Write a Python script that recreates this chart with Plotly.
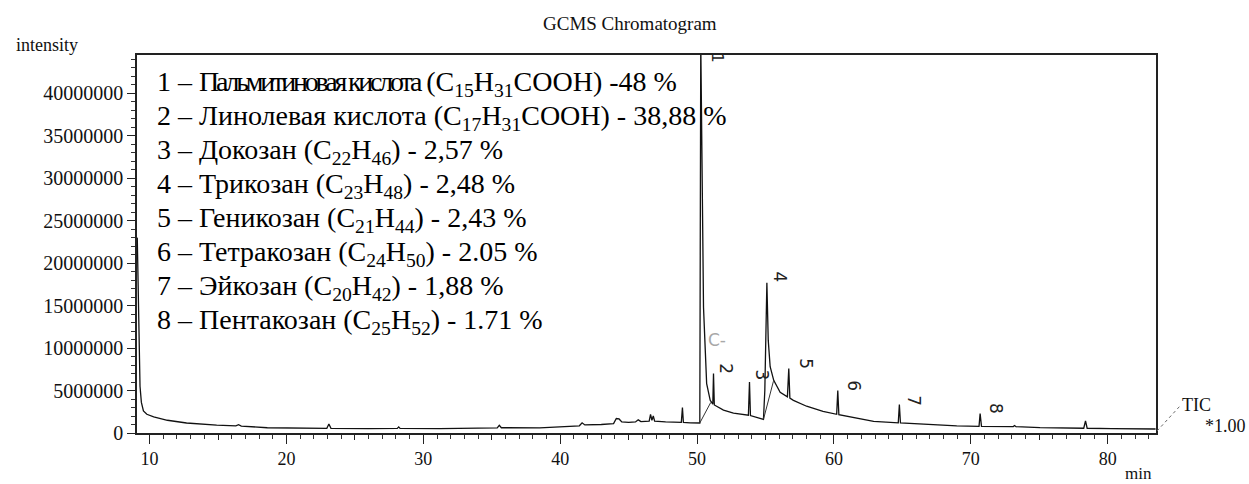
import plotly.graph_objects as go

# ---------------- data ----------------
rt_min = [9.10, 9.20, 9.30, 9.40, 9.55, 9.80, 10.3, 11.3, 12.7, 14.9, 16.3, 16.5, 16.7, 18.6, 21.0,
          22.95, 23.1, 23.25, 26.0, 28.1, 28.2, 28.3, 31.2, 35.4, 35.55, 35.7, 38.5, 40.0, 41.4, 41.6,
          41.8, 43.0, 43.9, 44.1, 44.3, 44.5, 45.0, 45.5, 45.7, 45.9, 46.5, 46.6, 46.7, 46.8, 46.9,
          47.7, 48.85, 48.93, 49.0, 49.5, 50.2, 50.27, 50.40, 50.47, 50.6, 50.7, 50.96, 51.15, 51.2,
          51.26, 51.93, 52.66, 53.75, 53.83, 53.9, 54.6, 54.85, 54.95, 55.05, 55.1, 55.2, 55.34, 55.6,
          56.07, 56.6, 56.7, 56.78, 57.04, 58.0, 59.2, 60.2, 60.28, 60.36, 61.7, 62.9, 64.7, 64.78,
          64.86, 66.5, 68.97, 70.6, 70.68, 70.78, 73.1, 73.2, 73.3, 75.06, 78.25, 78.38, 78.5, 80.3, 83.5]
intensity = [23.0e6, 12.0e6, 5.5e6, 3.6e6, 2.6e6, 2.2e6, 1.9e6, 1.5e6, 1.18e6, 0.92e6, 0.85e6, 0.98e6,
             0.82e6, 0.62e6, 0.58e6, 0.55e6, 1.05e6, 0.55e6, 0.52e6, 0.55e6, 0.72e6, 0.55e6, 0.52e6,
             0.6e6, 0.9e6, 0.62e6, 0.6e6, 0.7e6, 0.85e6, 1.2e6, 0.95e6, 1.0e6, 1.1e6, 1.7e6, 1.65e6,
             1.3e6, 1.25e6, 1.3e6, 1.55e6, 1.35e6, 1.4e6, 2.2e6, 1.5e6, 2.0e6, 1.4e6, 1.3e6, 1.25e6,
             3.0e6, 1.25e6, 1.2e6, 1.18e6, 46.0e6, 20.0e6, 14.8e6, 9.7e6, 5.8e6, 3.85e6, 3.4e6, 7.0e6,
             3.3e6, 2.7e6, 2.35e6, 2.1e6, 6.0e6, 2.05e6, 1.7e6, 1.6e6, 5.0e6, 14.0e6, 17.7e6, 10.9e6,
             7.8e6, 6.2e6, 4.8e6, 4.25e6, 7.6e6, 4.1e6, 3.85e6, 3.15e6, 2.55e6, 2.2e6, 5.0e6, 2.15e6,
             1.7e6, 1.38e6, 1.2e6, 3.35e6, 1.18e6, 1.03e6, 0.83e6, 0.78e6, 2.29e6, 0.78e6, 0.75e6,
             0.88e6, 0.74e6, 0.63e6, 0.56e6, 1.42e6, 0.56e6, 0.52e6, 0.47e6]

# integration baselines drawn by the instrument software
base1_rt = [50.2, 51.0]
base1_int = [1.18e6, 3.6e6]
base2_rt = [54.85, 55.58]
base2_int = [1.6e6, 6.1e6]

# peak labels (handwritten on the chart)
peak_labels = ["1", "2", "3", "4", "5", "6", "7", "8"]
peak_label_rt = [51.5, 52.05, 54.73, 56.07, 57.9, 61.4, 65.86, 71.8]
peak_label_int = [44.2e6, 7.6e6, 6.8e6, 18.4e6, 8.2e6, 5.6e6, 3.85e6, 2.9e6]

legend_lines = [
    '1 – <span style="letter-spacing:-3.2px">Пальмитиновая кислота</span> (C<sub>15</sub>H<sub>31</sub>COOH) -48 %',
    "2 – Линолевая кислота (C<sub>17</sub>H<sub>31</sub>COOH) - 38,88 %",
    "3 – Докозан (C<sub>22</sub>H<sub>46</sub>) - 2,57 %",
    "4 – Трикозан (C<sub>23</sub>H<sub>48</sub>) - 2,48 %",
    "5 – Геникозан (C<sub>21</sub>H<sub>44</sub>) - 2,43 %",
    "6 – Тетракозан (C<sub>24</sub>H<sub>50</sub>) - 2.05 %",
    "7 – Эйкозан (C<sub>20</sub>H<sub>42</sub>) - 1,88 %",
    "8 – Пентакозан (C<sub>25</sub>H<sub>52</sub>) - 1.71 %",
]

x_major = [10, 20, 30, 40, 50, 60, 70, 80]
x_medium = [15, 25, 35, 45, 55, 65, 75]

# ---------------- layout helpers ----------------
W, H = 1249, 484
L, R, T, B = 137, 1156, 55, 433


def px(xp):
    return (xp - L) / (R - L)


def py(yp):
    return (B - yp) / (B - T)


INK = "#111111"
SERIF = "Liberation Serif"

fig = go.Figure()
fig.add_trace(go.Scatter(x=rt_min, y=intensity, mode="lines",
                         line=dict(color=INK, width=1.3), showlegend=False, hoverinfo="skip"))
fig.add_trace(go.Scatter(x=base1_rt, y=base1_int, mode="lines",
                         line=dict(color="#333333", width=1), showlegend=False, hoverinfo="skip"))
fig.add_trace(go.Scatter(x=base2_rt, y=base2_int, mode="lines",
                         line=dict(color="#333333", width=1), showlegend=False, hoverinfo="skip"))

xr = [9.08, 83.53]
fig.update_layout(
    width=W, height=H,
    margin=dict(l=L, r=W - R, t=T, b=H - B, pad=0),
    paper_bgcolor="white", plot_bgcolor="white",
    showlegend=False,
    xaxis=dict(range=xr, tickvals=x_major, ticks="outside", ticklen=9, tickwidth=1.3,
               tickcolor="#222", showline=True, linecolor="#222", linewidth=1.6, mirror=True,
               showgrid=False, zeroline=False,
               tickfont=dict(family=SERIF, size=18, color=INK),
               minor=dict(dtick=1, tick0=0, ticks="outside", ticklen=4, tickwidth=1, tickcolor="#333")),
    xaxis2=dict(range=xr, overlaying="x", anchor="y", tickvals=x_medium, ticks="outside", ticklen=6,
                tickwidth=1.2, tickcolor="#222", showticklabels=False, showline=False,
                showgrid=False, zeroline=False),
    yaxis=dict(range=[0, 44.5e6], dtick=5e6, tick0=0, tickformat="d", ticks="outside", ticklen=8,
               tickwidth=1.3, tickcolor="#222", showline=True, linecolor="#222", linewidth=1.6,
               mirror=True, showgrid=False, zeroline=False,
               tickfont=dict(family=SERIF, size=20, color=INK),
               minor=dict(dtick=1e6, tick0=0, ticks="outside", ticklen=4, tickwidth=1, tickcolor="#333")),
)
# dummy trace so xaxis2 is drawn
fig.add_trace(go.Scatter(x=[xr[0]], y=[None], xaxis="x2", mode="lines", showlegend=False, hoverinfo="skip"))

ann = []
ann.append(dict(text="GCMS Chromatogram", x=px(630), y=py(23), xref="paper", yref="paper",
                xanchor="center", yanchor="middle",
                showarrow=False, font=dict(family=SERIF, size=19, color=INK)))
ann.append(dict(text="intensity", x=px(47), y=py(45), xref="paper", yref="paper",
                xanchor="center", yanchor="middle",
                showarrow=False, font=dict(family=SERIF, size=18, color=INK)))
ann.append(dict(text="min", x=px(1138), y=py(473), xref="paper", yref="paper",
                xanchor="center", yanchor="middle",
                showarrow=False, font=dict(family=SERIF, size=17, color=INK)))
ann.append(dict(text="TIC", x=px(1180), y=py(405), xref="paper", yref="paper", xanchor="left",
                yanchor="middle", showarrow=False, font=dict(family=SERIF, size=18, color=INK)))
ann.append(dict(text="*1.00", x=px(1248), y=py(426), xref="paper", yref="paper", xanchor="right",
                yanchor="middle", showarrow=False, font=dict(family=SERIF, size=18, color=INK)))

line_y = [83, 117, 151, 185, 219, 253, 287, 321]
for txt, yy in zip(legend_lines, line_y):
    ann.append(dict(text=txt, x=px(155), y=py(yy), xref="paper", yref="paper", xanchor="left",
                    yanchor="middle", showarrow=False, font=dict(family=SERIF, size=28, color="black")))

for lab, xx, yy in zip(peak_labels, peak_label_rt, peak_label_int):
    ann.append(dict(text=lab, x=xx, y=yy, xref="x", yref="y", showarrow=False, textangle=90,
                    font=dict(family="DejaVu Sans", size=15 if lab == "1" else 17, color="#222")))
ann.append(dict(text="C-", x=51.45, y=10.9e6, xref="x", yref="y", showarrow=False,
                font=dict(family="DejaVu Sans", size=17, color="#a8a8a8")))
fig.update_layout(annotations=ann)

fig.add_shape(type="line", xref="paper", yref="paper", x0=px(1157), y0=py(431), x1=px(1180),
              y1=py(406), line=dict(color="#666", width=1, dash="dot"))

fig.write_html("out.html")
